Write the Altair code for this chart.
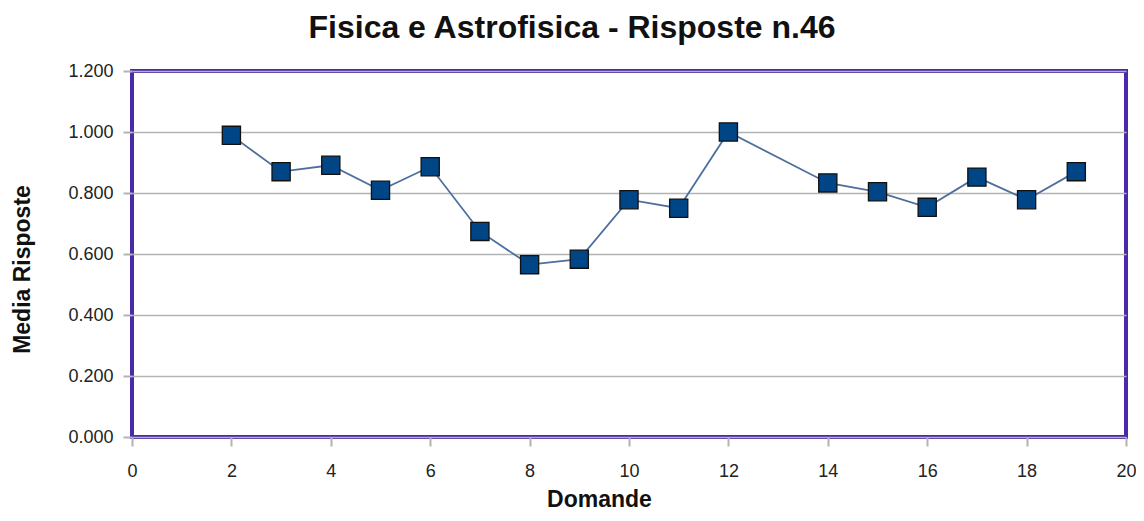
import altair as alt
import pandas as pd

domande = [2, 3, 4, 5, 6, 7, 8, 9, 10, 11, 12, 14, 15, 16, 17, 18, 19]
media = [0.989, 0.870, 0.891, 0.809, 0.886, 0.674, 0.565, 0.583, 0.778, 0.750,
         1.000, 0.833, 0.804, 0.753, 0.852, 0.778, 0.870]

df = pd.DataFrame({"Domande": domande, "Media": media})

FONT = "Liberation Sans"

x = alt.X("Domande:Q",
          scale=alt.Scale(domain=[0, 20], nice=False, zero=False),
          axis=alt.Axis(values=list(range(0, 21, 2)), title="Domande", grid=False,
                        tickColor="#b3b3b3", tickSize=9, tickWidth=2, domain=False,
                        labelFlush=False,
                        labelFont=FONT, labelFontSize=18, labelColor="#222222", labelPadding=16,
                        titleFont=FONT, titleFontSize=23, titleFontWeight="bold",
                        titleX=467, titleY=62, titleBaseline="middle", titleAlign="center",
                        titleColor="#111111"))
y = alt.Y("Media:Q",
          scale=alt.Scale(domain=[0, 1.2], nice=False),
          axis=alt.Axis(values=[0, 0.2, 0.4, 0.6, 0.8, 1.0, 1.2], format=".3f",
                        title="Media Risposte", grid=True, gridColor="#b3b3b3", gridWidth=1.5,
                        tickColor="#b3b3b3", tickSize=9, tickWidth=2, domain=False,
                        labelFont=FONT, labelFontSize=18, labelColor="#222222", labelPadding=10,
                        titleFont=FONT, titleFontSize=23, titleFontWeight="bold",
                        titleX=-110, titleY=198, titleAngle=-90, titleBaseline="middle",
                        titleAlign="center", titleColor="#111111"))

line = alt.Chart(df).mark_line(color="#4d6f9c", strokeWidth=1.8).encode(x=x, y=y)
pts = alt.Chart(df).mark_point(shape="square", filled=True, size=330, fill="#004586",
                               stroke="#111111", strokeWidth=1.3, opacity=1).encode(x=x, y=y)

chart = alt.layer(line, pts).properties(
    width=994, height=366,
    title=alt.TitleParams("Fisica e Astrofisica - Risposte n.46", font=FONT, fontSize=32,
                          fontWeight="bold", color="#111111", anchor="middle", offset=17, dx=-57),
    autosize=alt.AutoSizeParams(type="none"),
    padding={"left": 124, "top": 63, "right": 10, "bottom": 76},
    background="white",
).configure_view(stroke="#4a2aa8", strokeWidth=4)

chart.save("out.html", embed_options={"renderer": "svg", "actions": False})
